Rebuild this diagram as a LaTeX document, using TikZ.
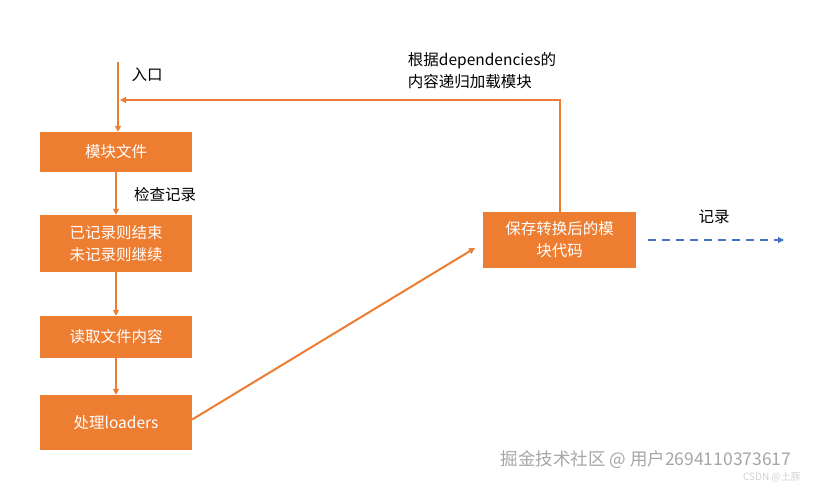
\documentclass[tikz,border=0pt]{standalone}
\usepackage{fontspec}
\setmainfont{Noto Sans CJK SC}
\usetikzlibrary{arrows.meta}
\definecolor{org}{HTML}{ED7D31}
\definecolor{blu}{HTML}{4472C4}
\begin{document}
\begin{tikzpicture}[x=1pt,y=-1pt,
 box/.style={fill=org,text=white,minimum width=152pt,inner sep=0pt,align=center,font=\fontsize{15.5}{22}\selectfont},
 arr/.style={draw=org,line width=2pt,-{Triangle[length=6pt,width=6pt]}},
 lab/.style={font=\fontsize{15.5}{22}\selectfont,align=left}]
\useasboundingbox (0,0) rectangle (822,486);
\node[box,minimum height=40pt] (a) at (116,152) {模块文件};
\node[box,minimum height=57pt] (b) at (116,243.5) {已记录则结束\\未记录则继续};
\node[box,minimum height=42pt] (c) at (116,337) {读取文件内容};
\node[box,minimum height=55pt] (d) at (116,422.5) {处理loaders};
\node[box,minimum width=153pt,minimum height=56pt] (e) at (559.5,240) {保存转换后的模\\块代码};
\coordinate (s) at (118,62);
\draw[arr] (s) -- (a.north -| s);
\draw[arr] (a) -- (b);
\draw[arr] (b) -- (c);
\draw[arr] (c) -- (d);
\coordinate (t) at (560,100);
\coordinate (u) at (120,100);
\draw[arr] (e.north -| t) -- (t) -- (u);
\draw[arr] (d.east) ++(0,-3) -- (475,248);
\coordinate (f1) at (648,240); \coordinate (f2) at (784,240);
\draw[draw=blu,line width=2pt,dash pattern=on 8pt off 6pt,-{Triangle[length=6pt,width=6pt]}] (f1) -- (f2);
\node[lab] (l1) at (147,75) {入口};
\node[lab] (l2) at (165,195) {检查记录};
\node[lab] (l3) at (482,71) {根据dependencies的\\内容递归加载模块};
\node[lab] (l4) at (714,217) {记录};
\node[text=gray!70,font=\fontsize{17.5}{20}\selectfont] (w) at (646,460) {掘金技术社区 @ 用户2694110373617};
\node[text=gray!35,font=\fontsize{10}{11}\selectfont] (w2) at (772,477) {CSDN @土豚};
\end{tikzpicture}
\end{document}
